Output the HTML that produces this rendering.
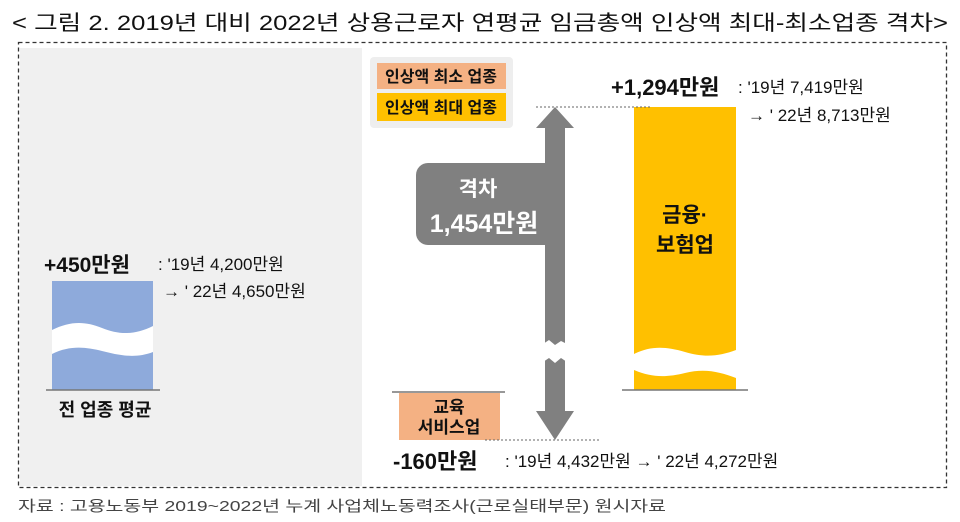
<!DOCTYPE html>
<html><head><meta charset="utf-8">
<style>
html,body{margin:0;padding:0;background:#fff;}
svg{display:block;font-family:"Liberation Sans","Noto Sans CJK KR",sans-serif;}
.b{font-weight:bold;}
</style></head>
<body>
<svg id="chart" width="960" height="522" viewBox="0 0 960 522">
  <text x="12" y="30" font-size="21" textLength="936" lengthAdjust="spacingAndGlyphs" fill="#111">&lt; 그림 2. 2019년 대비 2022년 상용근로자 연평균 임금총액 인상액 최대-최소업종 격차&gt;</text>
  <rect x="18.5" y="42.5" width="928" height="445" fill="none" stroke="#333" stroke-width="1.3" stroke-dasharray="4,3"/>
  <rect x="20" y="48" width="342" height="438" fill="#f0f0f0"/>
  <g id="marks"></g>
  <text x="18" y="511" font-size="15" fill="#444" textLength="648" lengthAdjust="spacingAndGlyphs">자료 : 고용노동부 2019~2022년 누계 사업체노동력조사(근로실태부문) 원시자료</text>
</svg>
<script>
const categories = ["전 업종 평균", "금융·보험업", "교육 서비스업"];
const wage2019 = [4200, 7419, 4432];
const wage2022 = [4650, 8713, 4272];
const increase = [450, 1294, -160];
const gapValue = 1454;

const NS = "http://www.w3.org/2000/svg";
const g = document.getElementById("marks");
function el(tag, attrs, text){
  const e = document.createElementNS(NS, tag);
  for (const k in attrs) e.setAttribute(k, attrs[k]);
  if (text !== undefined) e.textContent = text;
  g.appendChild(e);
  return e;
}
function fmt(v){ return v.toLocaleString("en-US"); }
function sgn(v){ return (v>0?"+":v<0?"-":"") + fmt(Math.abs(v)) + "만원"; }

const baseY = 390;
function yInc(v){
  return 440 - (v - increase[2]) * (440 - 107) / (1294 - (-160));
}
function hAvg(v){ return v * 109 / 450; }

// ---- left: all-industry average bar
const avgTop = baseY - hAvg(increase[0]);
let r = el("rect",{x:52,y:avgTop,width:101,height:baseY-avgTop,fill:"#8eaadb"});


let w = el("path",{d:`M52 ${avgTop+49} C70 ${avgTop+40},85 ${avgTop+40},102 ${avgTop+47} S135 ${avgTop+54},153 ${avgTop+45} L153 ${avgTop+71} C135 ${avgTop+78},118 ${avgTop+74},102 ${avgTop+70} S70 ${avgTop+64},52 ${avgTop+73} Z`,fill:"#fff"});


let l = el("line",{x1:46,y1:baseY,x2:160,y2:baseY,stroke:"#777","stroke-width":1.5});


let t = el("text",{x:105,y:416,"font-size":18,"text-anchor":"middle","class":"b",fill:"#111"},categories[0]);


t = el("text",{x:44,y:272,"font-size":21,"class":"b",fill:"#111"},sgn(increase[0]));


t = el("text",{x:158,y:270,"font-size":17,fill:"#111"},": '19년 "+fmt(wage2019[0])+"만원");


t = el("text",{x:163,y:297,"font-size":17,fill:"#111"},"→  ' 22년 "+fmt(wage2022[0])+"만원");



// ---- legend
r = el("rect",{x:370,y:57,width:143,height:71,rx:4,fill:"#eeeeee"});


r = el("rect",{x:377,y:63,width:129,height:26,fill:"#f4b183"});


t = el("text",{x:441,y:82,"font-size":16,"text-anchor":"middle","class":"b",fill:"#111"},"인상액 최소 업종");


r = el("rect",{x:377,y:93,width:129,height:28,fill:"#ffc000"});


t = el("text",{x:441,y:113,"font-size":16,"text-anchor":"middle","class":"b",fill:"#111"},"인상액 최대 업종");



// ---- max bar (finance)
const maxTop = yInc(increase[1]);
r = el("rect",{x:634,y:maxTop,width:102,height:baseY-maxTop,fill:"#ffc000"});


w = el("path",{d:"M634 354 C650 346,665 346,685 352 S720 356,736 350 L736 378 C720 372,705 368,685 373 S650 377,634 370 Z",fill:"#fff"});


l = el("line",{x1:622,y1:baseY,x2:748,y2:baseY,stroke:"#777","stroke-width":1.5});


t = el("text",{x:685,y:222,"font-size":21,"text-anchor":"middle","class":"b",fill:"#111"},"금융·");


t = el("text",{x:685,y:252,"font-size":21,"text-anchor":"middle","class":"b",fill:"#111"},"보험업");


t = el("text",{x:611,y:95,"font-size":22,"class":"b",fill:"#111"},sgn(increase[1]));


t = el("text",{x:738,y:93,"font-size":17,fill:"#111"},": '19년 "+fmt(wage2019[1])+"만원");


t = el("text",{x:748,y:121,"font-size":17,fill:"#111"},"→  ' 22년 "+fmt(wage2022[1])+"만원");



// ---- min (education)
const minY = yInc(increase[2]);
r = el("rect",{x:399,y:393,width:101,height:minY-393,fill:"#f4b183"});


l = el("line",{x1:392,y1:392,x2:505,y2:392,stroke:"#777","stroke-width":1.5});


t = el("text",{x:449,y:413,"font-size":17,"text-anchor":"middle","class":"b",fill:"#111"},"교육");


t = el("text",{x:449,y:433,"font-size":17,"text-anchor":"middle","class":"b",fill:"#111"},"서비스업");


t = el("text",{x:393,y:469,"font-size":22,"class":"b",fill:"#111"},sgn(increase[2]));


t = el("text",{x:505,y:467,"font-size":17,fill:"#111"},": '19년 "+fmt(wage2019[2])+"만원 →  ' 22년 "+fmt(wage2022[2])+"만원");



// dotted guides
l = el("line",{x1:536,y1:maxTop,x2:650,y2:maxTop,stroke:"#666","stroke-width":1,"stroke-dasharray":"2,2"});


l = el("line",{x1:485,y1:minY,x2:600,y2:minY,stroke:"#666","stroke-width":1,"stroke-dasharray":"2,2"});



// ---- double arrow
const ax = 555, aTop = maxTop, aBot = minY;
const arrowD = `M${ax} ${aTop} L${ax+19} ${aTop+21} L${ax+10} ${aTop+21} L${ax+10} ${aBot-29} L${ax+19} ${aBot-29} L${ax} ${aBot} L${ax-19} ${aBot-29} L${ax-10} ${aBot-29} L${ax-10} ${aTop+21} L${ax-19} ${aTop+21} Z`;
let a = el("path",{d:arrowD,fill:"#808080"});


let br = el("path",{d:`M${ax-12} 344 L${ax-6} 340 L${ax} 345 L${ax+6} 341 L${ax+12} 344 L${ax+12} 362 L${ax+6} 358 L${ax} 363 L${ax-6} 358 L${ax-12} 362 Z`,fill:"#fff"});


r = el("rect",{x:416,y:163,width:146,height:82,rx:12,fill:"#808080"});


t = el("text",{x:478,y:196,"font-size":21,"text-anchor":"middle","class":"b",fill:"#fff"},"격차");


t = el("text",{x:484,y:232,"font-size":25,"text-anchor":"middle","class":"b",fill:"#fff"},fmt(gapValue)+"만원");


</script>
</body></html>
